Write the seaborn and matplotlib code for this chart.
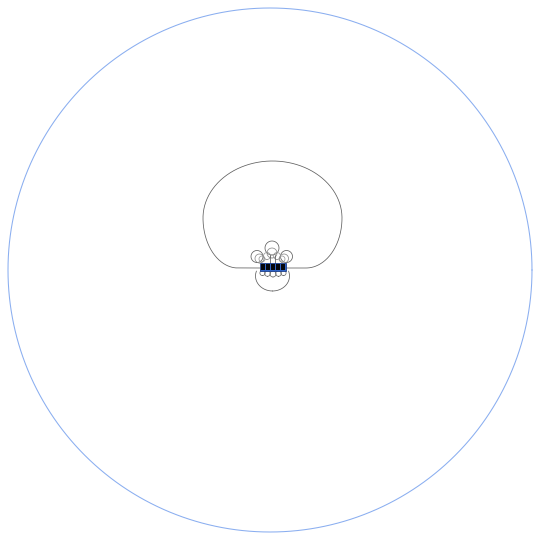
import numpy as np
import pandas as pd
import matplotlib
matplotlib.use("Agg")
import matplotlib.pyplot as plt
from matplotlib.patches import Rectangle
import seaborn as sns

sns.set_style("white")

# outer boundary circle
boundary_center = (270.0, 270.0)
boundary_radius = 262.0

# coil bar: outer frame and five cells in a row
bar_x0, bar_x1 = 260.0, 286.0
bar_top, bar_bottom = 263.0, 271.0
cell_x0 = [261.0, 266.0, 271.0, 276.0, 281.0]
cell_w = 4.2
cell_h = 5.6

# field loops as ellipses clipped at the bar: centre x, centre y, half-width, half-height, side
loop_cx = [257.0, 286.5, 272.0, 262.0, 267.0, 277.0, 282.0, 272.0, 259.5, 284.0,
           262.5, 267.5, 273.0, 278.5, 283.5, 272.5]
loop_cy = [256.5, 256.5, 248.0, 259.0, 256.0, 256.0, 259.0, 253.0, 258.5, 258.5,
           273.0, 273.5, 274.0, 273.5, 273.0, 276.0]
loop_rx = [6.0, 6.0, 7.0, 3.0, 3.5, 3.5, 3.0, 5.0, 4.5, 4.5,
           2.6, 2.8, 3.0, 2.8, 2.6, 17.0]
loop_ry = [6.0, 6.0, 7.0, 3.0, 3.5, 3.5, 3.0, 5.0, 4.5, 4.5,
           2.6, 2.8, 3.0, 2.8, 2.6, 15.0]
loop_side = ["up"] * 10 + ["down"] * 6
loop_tone = ["#5e5e5e", "#5e5e5e", "#5e5e5e", "#9a9a9a", "#9a9a9a", "#9a9a9a", "#9a9a9a",
             "#8a8a8a", "#8a8a8a", "#8a8a8a",
             "#6e6e6e", "#6e6e6e", "#6e6e6e", "#6e6e6e", "#6e6e6e", "#5e5e5e"]

# neck of the tall central loop: x at the bar for left and right strands
neck_x = [269.5, 274.5]

# big outer loop: attach points on the bar, tail ends, extents
big_left_x, big_right_x = 260.0, 286.0
big_tail_left, big_tail_right = 238.0, 306.0
big_base_y = 268.0
big_min_x, big_max_x = 203.0, 342.0
big_top_y, big_side_y = 161.0, 218.0

fig = plt.figure(figsize=(5.33, 5.35), dpi=100)
ax = fig.add_axes([0, 0, 1, 1])
ax.set_xlim(0, 533)
ax.set_ylim(535, 0)
ax.axis("off")

line_kw = dict(color="#5e5e5e", linewidth=0.55, sort=False, estimator=None, legend=False, ax=ax)

# boundary
t = np.linspace(0, 2 * np.pi, 721)
sns.lineplot(x=boundary_center[0] + boundary_radius * np.cos(t),
             y=boundary_center[1] + boundary_radius * np.sin(t),
             color="#8aaef0", linewidth=0.75, sort=False, estimator=None, ax=ax)

# big outer loop assembled from quarter ellipses
cx_mid = (big_min_x + big_max_x) / 2
down = np.linspace(np.pi / 2, 0, 80)
up = np.linspace(0, np.pi / 2, 80)
ll_x = big_tail_left - (big_tail_left - big_min_x) * np.cos(down)
ll_y = big_side_y + (big_base_y - big_side_y) * np.sin(down)
a = np.linspace(np.pi, 0, 200)
top_x = cx_mid + (big_max_x - cx_mid) * np.cos(a)
top_y = big_side_y - (big_side_y - big_top_y) * np.sin(a)
rl_x = big_tail_right + (big_max_x - big_tail_right) * np.cos(up)
rl_y = big_side_y + (big_base_y - big_side_y) * np.sin(up)
big_x = np.concatenate([[big_left_x], ll_x, top_x, rl_x, [big_right_x]])
big_y = np.concatenate([[big_base_y], ll_y, top_y, rl_y, [big_base_y]])
sns.lineplot(x=big_x, y=big_y, **line_kw)

# loops around the bar, clipped where they enter the coil
for cx, cy, rx, ry, side, tone in zip(loop_cx, loop_cy, loop_rx, loop_ry, loop_side, loop_tone):
    s = np.linspace(np.pi / 2, np.pi / 2 + 2 * np.pi, 360)
    lx = cx + rx * np.cos(s)
    ly = cy + ry * np.sin(s)
    keep = ly <= bar_top if side == "up" else ly >= bar_bottom
    ax.plot(np.where(keep, lx, np.nan), np.where(keep, ly, np.nan),
            color=tone, linewidth=0.55)

# central loop neck from the circle down to the bar
c_cx, c_cy, c_r = loop_cx[2], loop_cy[2], loop_rx[2]
for nx in neck_x:
    ang = np.arcsin(np.clip((nx - c_cx) / c_r, -1, 1))
    sy = c_cy + c_r * np.cos(ang)
    sns.lineplot(x=[nx, nx], y=[sy, bar_top], **line_kw)

# coil frame and cells
ax.add_patch(Rectangle((bar_x0, bar_top), bar_x1 - bar_x0, bar_bottom - bar_top,
                       facecolor="#2f64c8", edgecolor="#1d3f8a", linewidth=0.6, zorder=5))
for x0 in cell_x0:
    ax.add_patch(Rectangle((x0, bar_top + 1.2), cell_w, cell_h, facecolor="#05070d",
                           edgecolor="none", zorder=6))

fig.savefig("out.png", dpi=100)
